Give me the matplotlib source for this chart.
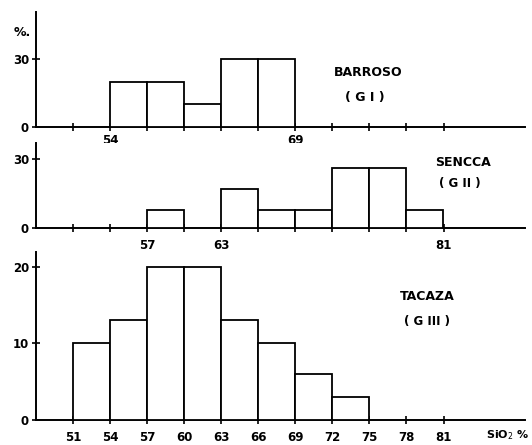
import matplotlib.pyplot as plt

# bin edges (SiO2 %) and percentages per panel
barroso_edges = [54, 57, 60, 63, 66]
barroso_pct = [20, 20, 10, 30, 30]

sencca_edges = [57, 63, 66, 69, 72, 75, 78]
sencca_pct = [8, 17, 8, 8, 26, 26, 8]

tacaza_edges = [51, 54, 57, 60, 63, 66, 69, 72]
tacaza_pct = [10, 13, 20, 20, 13, 10, 6, 3]

ticks = [51, 54, 57, 60, 63, 66, 69, 72, 75, 78, 81]
top_labels = [54, 69]
mid_labels = [57, 63, 81]
bot_labels = ticks

W, H = 532, 445
fig = plt.figure(figsize=(W / 100, H / 100), dpi=100)
fig.patch.set_facecolor('white')


def make_ax(y_top, y_bot, ymax, xpad):
    ax = fig.add_axes([36 / W, 1 - y_bot / H, 489 / W, (y_bot - y_top) / H])
    ax.set_xlim(48, 87.6)
    ax.set_ylim(0, ymax)
    for s in ['top', 'right']:
        ax.spines[s].set_visible(False)
    for s in ['left', 'bottom']:
        ax.spines[s].set_linewidth(1.4)
    ax.tick_params(direction='inout', length=6, width=1.2, pad=2,
                   labelsize=8.5)
    ax.tick_params(axis='x', pad=xpad)
    return ax


def draw(ax, edges, pct, shown, yticks):
    ax.bar(edges, pct, width=3, align='edge', color='white',
           edgecolor='black', linewidth=1.3, zorder=3)
    ax.set_xticks(ticks)
    ax.set_xticklabels([str(t) if t in shown else '' for t in ticks],
                       fontweight='bold', fontsize=8.5)
    ax.set_yticks(yticks)
    ax.set_yticklabels([str(v) for v in yticks], fontweight='bold',
                       fontsize=8.5)


ax1 = make_ax(12, 127, 50.7, 2)
draw(ax1, barroso_edges, barroso_pct, top_labels, [0, 30])
ax1.text(-0.045, 0.82, '%.', transform=ax1.transAxes, fontsize=9,
         fontweight='bold', ha='left', va='center')
fig.text(368 / W, 1 - 72 / H, 'BARROSO', ha='center', va='center',
         fontsize=9, fontweight='bold')
fig.text(365 / W, 1 - 97 / H, '( G I )', ha='center', va='center',
         fontsize=9, fontweight='bold')

ax2 = make_ax(143, 228, 37, 5)
draw(ax2, sencca_edges, sencca_pct, mid_labels, [0, 30])
fig.text(463 / W, 1 - 163 / H, 'SENCCA', ha='center', va='center',
         fontsize=9, fontweight='bold')
fig.text(460 / W, 1 - 183 / H, '( G II )', ha='center', va='center',
         fontsize=8.5, fontweight='bold')

ax3 = make_ax(252, 420, 21.9, 5)
draw(ax3, tacaza_edges, tacaza_pct, bot_labels, [0, 10, 20])
fig.text(427 / W, 1 - 297 / H, 'TACAZA', ha='center', va='center',
         fontsize=9, fontweight='bold')
fig.text(427 / W, 1 - 322 / H, '( G III )', ha='center', va='center',
         fontsize=8.5, fontweight='bold')
fig.text(486 / W, 1 - 435 / H, 'SiO$_2$ %', ha='left', va='center',
         fontsize=8, fontweight='bold')

fig.savefig('out.png', dpi=100, facecolor='white')
